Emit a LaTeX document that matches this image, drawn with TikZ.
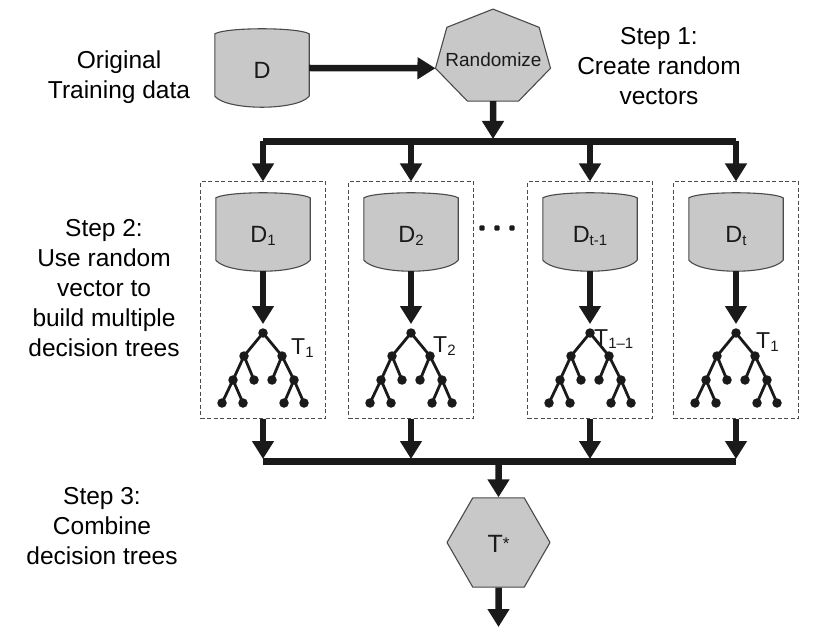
\documentclass[tikz,border=0pt]{standalone}
\usepackage{fontspec}
\setmainfont{Liberation Sans}
\usetikzlibrary{arrows.meta,calc,shapes.geometric,backgrounds}
\definecolor{shapegray}{HTML}{C8C8C8}
\definecolor{edgegray}{HTML}{4A4A4A}
\definecolor{ink}{HTML}{1A1A1A}
\newcommand\sbs[1]{\raisebox{-3pt}{\fontsize{15}{15}\selectfont #1}}
\newcommand\cylbg[1]{%
  \path[shp] ($(#1.north west)+(0,5)$)
    .. controls ($(#1.north west)+(12,-1.7)$) and ($(#1.north east)+(-12,-1.7)$) .. ($(#1.north east)+(0,5)$)
    -- ($(#1.south east)+(0,-11)$)
    .. controls ($(#1.south east)+(-12,3.7)$) and ($(#1.south west)+(12,3.7)$) .. ($(#1.south west)+(0,-11)$)
    -- cycle;}
\newcommand\treeat[3]{%
  \node[leaf] (#1-r) at (#2,#3) {};
  \node[leaf] (#1-a) at ({#2-19},{#3+23}) {};
  \node[leaf] (#1-b) at ({#2+19},{#3+23}) {};
  \node[leaf] (#1-aa) at ({#2-30},{#3+47}) {};
  \node[leaf] (#1-ab) at ({#2-9},{#3+47}) {};
  \node[leaf] (#1-ba) at ({#2+9},{#3+47}) {};
  \node[leaf] (#1-bb) at ({#2+31},{#3+47}) {};
  \node[leaf] (#1-aaa) at ({#2-41},{#3+70}) {};
  \node[leaf] (#1-aab) at ({#2-20},{#3+70}) {};
  \node[leaf] (#1-bba) at ({#2+21},{#3+70}) {};
  \node[leaf] (#1-bbb) at ({#2+41},{#3+70}) {};
  \draw[twig] (#1-a.center) -- (#1-r.center) -- (#1-b.center);
  \draw[twig] (#1-aa.center) -- (#1-a.center) -- (#1-ab.center);
  \draw[twig] (#1-ba.center) -- (#1-b.center) -- (#1-bb.center);
  \draw[twig] (#1-aaa.center) -- (#1-aa.center) -- (#1-aab.center);
  \draw[twig] (#1-bba.center) -- (#1-bb.center) -- (#1-bbb.center);
}
\begin{document}
\begin{tikzpicture}[x=1pt,y=-1pt,
  txt/.style={font=\fontsize{24.5}{30}\selectfont, align=center, inner sep=0pt, anchor=north},
  cyl/.style={minimum width=94pt, minimum height=78pt, inner sep=0pt, text height=21pt, text depth=0pt, font=\fontsize{23.5}{23.5}\selectfont, text=ink},
  shp/.style={fill=shapegray, draw=edgegray, line width=1.1pt, line join=round},
  arr/.style={draw=ink, line width=6.5pt, -{Triangle[width=21pt,length=18pt]}},
  bus/.style={draw=ink, line width=7pt, line cap=square},
  grp/.style={draw=edgegray, line width=1pt, dash pattern=on 4pt off 2.5pt, minimum width=125pt, minimum height=236pt, inner sep=0pt},
  leaf/.style={circle, fill=ink, minimum size=9.5pt, inner sep=0pt},
  twig/.style={draw=ink, line width=2.8pt},
  tl/.style={font=\fontsize{23}{23}\selectfont, inner sep=0pt, anchor=base west, text=ink},
  hexa/.style={regular polygon, regular polygon sides=6, minimum size=103pt, inner sep=0pt, shp, text height=19pt, text depth=0pt, font=\fontsize{25}{25}\selectfont, text=ink}
]
\useasboundingbox (0,0) rectangle (816,636);

% side texts
\node[txt] (orig) at (119,50.5) {Original\\Training data};
\node[txt] (s1) at (659,27.5) {Step 1:\\Create random\\vectors};
\node[txt] (s2) at (104,219.5) {Step 2:\\Use random\\vector to\\build multiple\\decision trees};
\node[txt] (s3) at (102,487.5) {Step 3:\\Combine\\decision trees};

% top: data and randomize
\node[cyl] (D) at (262,68) {D};
\foreach \k in {0,...,6}
  \coordinate (h\k) at ({493+59*cos(90+\k*360/7)},{57.5-48.4*sin(90+\k*360/7)});
\draw[shp] (h0) -- (h1) -- (h2) -- (h3) -- (h4) -- (h5) -- (h6) -- cycle;
\node[anchor=base, font=\fontsize{19}{19}\selectfont, inner sep=0pt, text=ink] (rnd) at (493.5,67) {Randomize};
\coordinate (hB) at ($(h3)!0.5!(h4)$);

% columns
\foreach \i/\c/\lab in {1/263/D\sbs{1}, 2/411/D\sbs{2}, 3/590/D\sbs{t-1}, 4/736/D\sbs{t}} {
  \node[grp] (g\i) at (\c,300) {};
  \node[cyl] (d\i) at (\c,232) {\lab};
  \treeat{t\i}{\c}{333}
  \coordinate (tb\i) at (\c,141.5);
  \coordinate (bb\i) at (\c,461);
}
\begin{scope}[on background layer]
  \cylbg{D}
  \foreach \i in {1,...,4} {\cylbg{d\i}}
\end{scope}

% tree labels
\node[tl] (l1) at (291,354) {T\sbs{1}};
\node[tl] (l2) at (433,352) {T\sbs{2}};
\node[tl] (l3) at (594,345) {T\sbs{1–1}};
\node[tl] (l4) at (756,348) {T\sbs{1}};

% dots between columns
\foreach \x in {482,497,512}
  \fill[ink, rounded corners=1pt] ({\x-2.6},225.4) rectangle +(5.2,5.2);

% connectors top
\draw[arr] (D.east) -- (h2);
\coordinate (tm) at (493,141.5);
\draw[arr, shorten >=2.5pt] (hB) -- (tm);
\draw[bus] (tb1) -- (tb4);
\foreach \i in {1,...,4} {
  \draw[arr] (tb\i) -- (g\i.north);
  \draw[arr, shorten >=4pt] (d\i.south) -- (t\i-r.north);
  \draw[arr, shorten >=2pt] (g\i.south) -- (bb\i);
}
\draw[bus] (bb1) -- (bb4);

% combine
\node[hexa] (ts) at (498.5,542.5) {T\raisebox{3pt}{\fontsize{17}{17}\selectfont *}};
\coordinate (bm) at (498.5,461);
\draw[arr] (bm) -- (ts.north);
\coordinate (out) at (498.5,627);
\draw[arr] (ts.south) -- (out);
\end{tikzpicture}
\end{document}
